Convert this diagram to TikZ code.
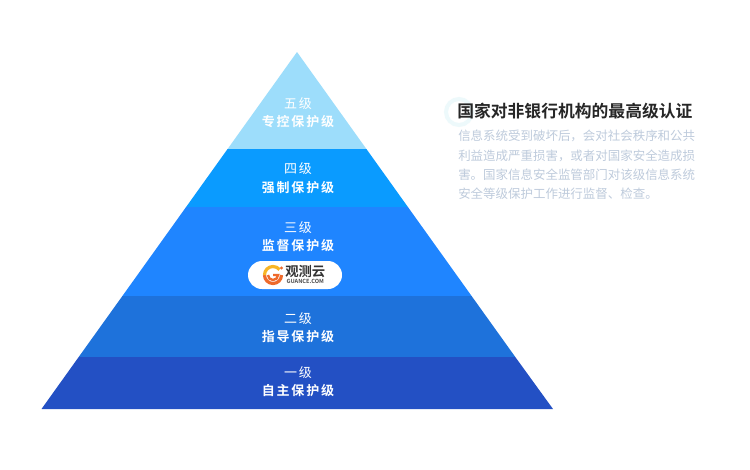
\documentclass[tikz,border=0pt]{standalone}
\usepackage{fontspec}
\usetikzlibrary{positioning}
\newfontfamily\cjk[BoldFont={Noto Sans CJK SC Bold}]{Noto Sans CJK SC}
\newfontfamily\cjkwide[LetterSpace=14,BoldFont={Noto Sans CJK SC Bold}]{Noto Sans CJK SC}
\definecolor{levelA}{HTML}{2350C4}
\definecolor{levelB}{HTML}{1E72DB}
\definecolor{levelC}{HTML}{1F85FF}
\definecolor{levelD}{HTML}{0A9BFF}
\definecolor{levelE}{HTML}{9DDDFB}
\definecolor{bodygray}{HTML}{BECBDC}
\definecolor{ringcyan}{HTML}{EDF9FB}
\definecolor{logoyellow}{HTML}{F7B526}
\definecolor{logored}{HTML}{EE6A2B}
\begin{document}
\begin{tikzpicture}
[x=0.75pt, y=-0.75pt,
 layer/.style={draw=none},
 levelname/.style={text=white,align=center,inner sep=0pt,font=\fontsize{9.75}{14}\cjkwide},
 pill/.style={rectangle,rounded corners=10.5pt,fill=white,minimum width=70.5pt,minimum height=21pt,inner sep=0pt},
 title/.style={anchor=west,inner sep=0pt,text=black!85,font=\fontsize{12.6}{15}\cjk\bfseries},
 bodytext/.style={anchor=north west,align=left,inner sep=0pt,text=bodygray,font=\fontsize{9.35}{14.4}\cjk}]
\useasboundingbox (0,0) rectangle (750,469);
\fill[white] (0,0) rectangle (750,469);
% pyramid
\fill[layer,levelE] (297,52) -- (366.4,149) -- (227.6,149) -- cycle;
\fill[layer,levelD] (227.6,149) -- (366.4,149) -- (407.9,207) -- (186.1,207) -- cycle;
\fill[layer,levelC] (186.1,207) -- (407.9,207) -- (471.6,296) -- (122.4,296) -- cycle;
\fill[layer,levelB] (122.4,296) -- (471.6,296) -- (515.3,357) -- (78.7,357) -- cycle;
\fill[layer,levelA] (78.7,357) -- (515.3,357) -- (553,409) -- (41.5,409) -- cycle;
% labels
\node[levelname] (L5) at (298,112.5) {五级\\\bfseries 专控保护级};
\node[levelname] (L4) at (298,178.5) {四级\\\bfseries 强制保护级};
\node[levelname] (L3) at (298,236.5) {三级\\\bfseries 监督保护级};
\node[levelname] (L2) at (298,327.5) {二级\\\bfseries 指导保护级};
\node[levelname] (L1) at (298,381.5) {一级\\\bfseries 自主保护级};
% logo
\node[pill] (logo) at (295,275) {};
\draw[logored,line width=2.4pt] (273,275) ++(8.5,0) arc (0:180:8.5);
\draw[logoyellow,line width=2.4pt] (264.5,275) arc (180:320:8.5);
\draw[logored,line width=1.8pt] (273,275) -- (278,275) arc (0:180:5);
\fill[logored] (281.5,268) circle (1.6);
\node[inner sep=0pt,anchor=west,text=black!80,font=\fontsize{10}{11}\cjk\bfseries] (logoname) at (285,271.5) {观测云};
\node[inner sep=0pt,below=0.5pt of logoname,text=black!70,font=\fontsize{4.2}{4}\cjk\bfseries] (logourl) {GUANCE.COM};
% right text
\draw[ringcyan,line width=3pt] (459,112) circle (13);
\node[title] (head) at (457,111) {国家对非银行机构的最高级认证};
\node[bodytext] (body) at (458,130) {信息系统受到破坏后，会对社会秩序和公共\\利益造成严重损害，或者对国家安全造成损\\害。国家信息安全监管部门对该级信息系统\\安全等级保护工作进行监督、检查。};
\end{tikzpicture}
\end{document}
